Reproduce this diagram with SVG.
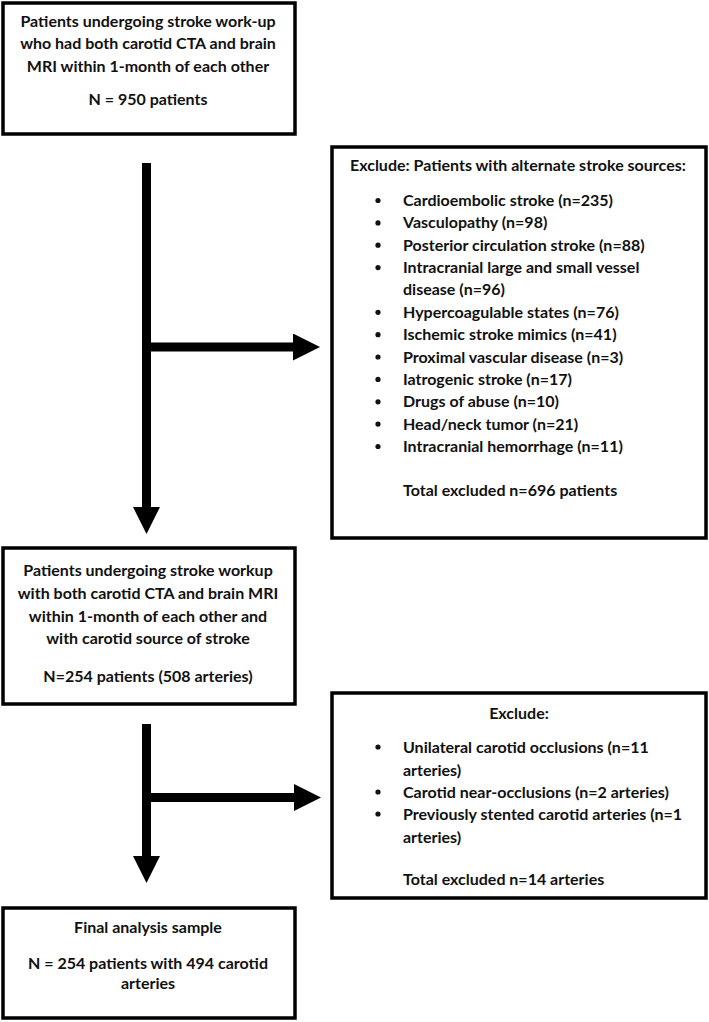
<svg xmlns="http://www.w3.org/2000/svg" width="709" height="1022" viewBox="0 0 709 1022">
<style>
.box{fill:#fff;stroke:#000;stroke-width:3.5}
text{font-family:Lato,"Liberation Sans",sans-serif;font-weight:700;font-size:16px;fill:#111}
.c{text-anchor:middle}
.conn{stroke:#000;stroke-width:9;fill:none}
.dot{fill:#111}
</style>
<defs>
<marker id="ah" viewBox="0 0 27 27" refX="0" refY="13.5" markerWidth="27" markerHeight="27" markerUnits="userSpaceOnUse" orient="auto">
<path d="M0,0 L27,13.5 L0,27 z" fill="#000"/>
</marker>
</defs>
<rect width="709" height="1022" fill="#fff"/>
<g id="connectors">
<line class="conn" x1="146.5" y1="163" x2="146.5" y2="507" marker-end="url(#ah)"/>
<line class="conn" x1="146.5" y1="347" x2="293" y2="347" marker-end="url(#ah)"/>
<line class="conn" x1="146.5" y1="724" x2="146.5" y2="856" marker-end="url(#ah)"/>
<line class="conn" x1="146.5" y1="797.5" x2="294" y2="797.5" marker-end="url(#ah)"/>
</g>
<g id="start">
<rect class="box" x="3" y="3" width="292" height="131"/>
<text class="c" x="148" y="26.5">Patients undergoing stroke work-up</text>
<text class="c" x="148" y="48.5">who had both carotid CTA and brain</text>
<text class="c" x="148" y="71.5">MRI within 1-month of each other</text>
<text class="c" x="148" y="104.5">N = 950 patients</text>
</g>
<g id="exclude1">
<rect class="box" x="332" y="147" width="374" height="391"/>
<text x="350" y="170.5">Exclude: Patients with alternate stroke sources:</text>
<g>
<circle class="dot" cx="378" cy="200.5" r="2.6"/>
<circle class="dot" cx="378" cy="222.9" r="2.6"/>
<circle class="dot" cx="378" cy="245.2" r="2.6"/>
<circle class="dot" cx="378" cy="267.6" r="2.6"/>
<circle class="dot" cx="378" cy="312.3" r="2.6"/>
<circle class="dot" cx="378" cy="334.7" r="2.6"/>
<circle class="dot" cx="378" cy="357.0" r="2.6"/>
<circle class="dot" cx="378" cy="379.4" r="2.6"/>
<circle class="dot" cx="378" cy="401.8" r="2.6"/>
<circle class="dot" cx="378" cy="424.1" r="2.6"/>
<circle class="dot" cx="378" cy="446.5" r="2.6"/>
</g>
<text x="403" y="206">Cardioembolic stroke (n=235)</text>
<text x="403" y="228.4">Vasculopathy (n=98)</text>
<text x="403" y="250.7">Posterior circulation stroke (n=88)</text>
<text x="403" y="273.1">Intracranial large and small vessel</text>
<text x="403" y="295.4">disease (n=96)</text>
<text x="403" y="317.8">Hypercoagulable states (n=76)</text>
<text x="403" y="340.2">Ischemic stroke mimics (n=41)</text>
<text x="403" y="362.5">Proximal vascular disease (n=3)</text>
<text x="403" y="384.9">Iatrogenic stroke (n=17)</text>
<text x="403" y="407.3">Drugs of abuse (n=10)</text>
<text x="403" y="429.6">Head/neck tumor (n=21)</text>
<text x="403" y="452">Intracranial hemorrhage (n=11)</text>
<text x="403" y="496">Total excluded n=696 patients</text>
</g>
<g id="carotid">
<rect class="box" x="3" y="548" width="292" height="156"/>
<text class="c" x="148" y="575.5">Patients undergoing stroke workup</text>
<text class="c" x="148" y="598.5">with both carotid CTA and brain MRI</text>
<text class="c" x="148" y="621.5">within 1-month of each other and</text>
<text class="c" x="148" y="643.5">with carotid source of stroke</text>
<text class="c" x="148" y="681.5">N=254 patients (508 arteries)</text>
</g>
<g id="exclude2">
<rect class="box" x="332" y="693" width="374" height="205"/>
<text class="c" x="519" y="718.5">Exclude:</text>
<circle class="dot" cx="378" cy="747" r="2.6"/>
<circle class="dot" cx="378" cy="792" r="2.6"/>
<circle class="dot" cx="378" cy="814" r="2.6"/>
<text x="403" y="752.5">Unilateral carotid occlusions (n=11</text>
<text x="403" y="775.5">arteries)</text>
<text x="403" y="797.5">Carotid near-occlusions (n=2 arteries)</text>
<text x="403" y="819.5">Previously stented carotid arteries (n=1</text>
<text x="403" y="842.5">arteries)</text>
<text x="403" y="884.5">Total excluded n=14 arteries</text>
</g>
<g id="final">
<rect class="box" x="3" y="908" width="292" height="110"/>
<text class="c" x="148" y="932.5">Final analysis sample</text>
<text class="c" x="148" y="968.5">N = 254 patients with 494 carotid</text>
<text class="c" x="148" y="988.5">arteries</text>
</g>
</svg>
